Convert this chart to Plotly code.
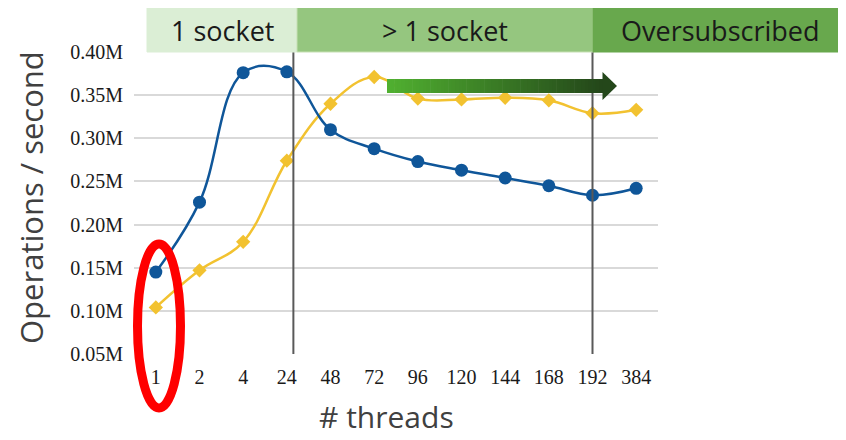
import plotly.graph_objects as go

threads = ["1", "2", "4", "24", "48", "72", "96", "120", "144", "168", "192", "384"]
series_blue = [0.145, 0.226, 0.376, 0.377, 0.310, 0.288, 0.273, 0.263, 0.254, 0.245, 0.234, 0.242]
series_yellow = [0.104, 0.147, 0.180, 0.274, 0.340, 0.371, 0.346, 0.345, 0.347, 0.344, 0.329, 0.333]
y_ticks = [0.05, 0.10, 0.15, 0.20, 0.25, 0.30, 0.35, 0.40]
y_tick_labels = ["0.05M", "0.10M", "0.15M", "0.20M", "0.25M", "0.30M", "0.35M", "0.40M"]
regions = ["1 socket", "> 1 socket", "Oversubscribed"]

OFF = 8  # page body margin
W, H = 846 - OFF, 440 - OFF
L, R, T, B = 134, 658, 52, 354  # plot area in page pixels


def px(x):
    return (x - L) / (R - L)


def py(y):
    return (B - y) / (B - T)


fig = go.Figure()
fig.add_trace(go.Scatter(
    x=threads, y=series_yellow, mode="lines+markers",
    line=dict(color="#F2C230", width=2.5, shape="spline", smoothing=1.1),
    marker=dict(symbol="diamond", size=11, color="#F2C230"),
    cliponaxis=False, showlegend=False))
fig.add_trace(go.Scatter(
    x=threads, y=series_blue, mode="lines+markers",
    line=dict(color="#0F5699", width=2.5, shape="spline", smoothing=1.1),
    marker=dict(symbol="circle", size=13, color="#0F5699"),
    cliponaxis=False, showlegend=False))

shapes = []
for xv in [3.15, 10]:
    shapes.append(dict(type="line", xref="x", yref="paper", x0=xv, x1=xv, y0=0, y1=1,
                       line=dict(color="#595959", width=2), layer="above"))

bands = [(147, 297, "#DBEED5"), (297, 593, "#95C67F"), (593, 846, "#68A84D")]
annotations = []
for (x0, x1, col), txt in zip(bands, regions):
    shapes.append(dict(type="rect", xref="paper", yref="paper", x0=px(x0), x1=px(x1),
                       y0=py(52), y1=py(5), fillcolor=col,
                       line=dict(color="#C6E0B4" if col == "#95C67F" else col, width=1)))
    annotations.append(dict(xref="paper", yref="paper", x=px((x0 + x1) / 2), y=py(30),
                            text=txt, showarrow=False, xanchor="center", yanchor="middle",
                            font=dict(family="Open Sans", size=27, color="#1A1A1A")))

c0 = (0x50, 0xB0, 0x30)
c1 = (0x24, 0x47, 0x1A)
ax0, ax1 = 387, 603
n = 60
for i in range(n):
    t = i / (n - 1)
    col = "rgb(%d,%d,%d)" % tuple(round(c0[k] + (c1[k] - c0[k]) * t) for k in range(3))
    xa = ax0 + (ax1 - ax0) * i / n
    xb = ax0 + (ax1 - ax0) * (i + 1) / n + 0.6
    shapes.append(dict(type="rect", xref="paper", yref="paper", x0=px(xa), x1=px(xb),
                       y0=py(93), y1=py(79), fillcolor=col, line=dict(width=0), layer="above"))
shapes.append(dict(type="path", xref="paper", yref="paper",
                   path="M %f %f L %f %f L %f %f Z" % (px(602.5), py(72), px(617), py(86), px(602.5), py(100)),
                   fillcolor="rgb(36,71,26)", line=dict(width=0), layer="above"))

shapes.append(dict(type="circle", xref="paper", yref="paper", x0=px(137.5), x1=px(180.5),
                   y0=py(408), y1=py(244), line=dict(color="#FF0000", width=9), layer="above"))

annotations.append(dict(xref="paper", yref="paper", x=px(386), y=py(439), text="# threads",
                        showarrow=False, xanchor="center", yanchor="bottom",
                        font=dict(family="Open Sans", size=30, color="#404040")))
annotations.append(dict(xref="paper", yref="paper", x=px(31), y=py(198), text="Operations / second",
                        showarrow=False, xanchor="center", yanchor="middle", textangle=-90,
                        font=dict(family="Open Sans", size=31, color="#404040")))

fig.update_layout(
    width=W, height=H, margin=dict(l=L - OFF, r=846 - R, t=T - OFF, b=440 - B),
    paper_bgcolor="white", plot_bgcolor="white",
    shapes=shapes, annotations=annotations,
    xaxis=dict(type="category", categoryorder="array", categoryarray=threads,
               range=[-0.5, 11.5], showgrid=False, zeroline=False, showline=False,
               ticks="", ticklabelstandoff=9,
               tickfont=dict(family="Liberation Serif", size=20, color="#1A1A1A")),
    yaxis=dict(range=[0.05, 0.40], tickvals=y_ticks, ticktext=y_tick_labels,
               showgrid=True, gridcolor="#D9D9D9", gridwidth=1.5, zeroline=False,
               showline=False, ticks="", ticklabelstandoff=10,
               tickfont=dict(family="Liberation Serif", size=20, color="#1A1A1A")),
)

fig.write_html("out.html")
